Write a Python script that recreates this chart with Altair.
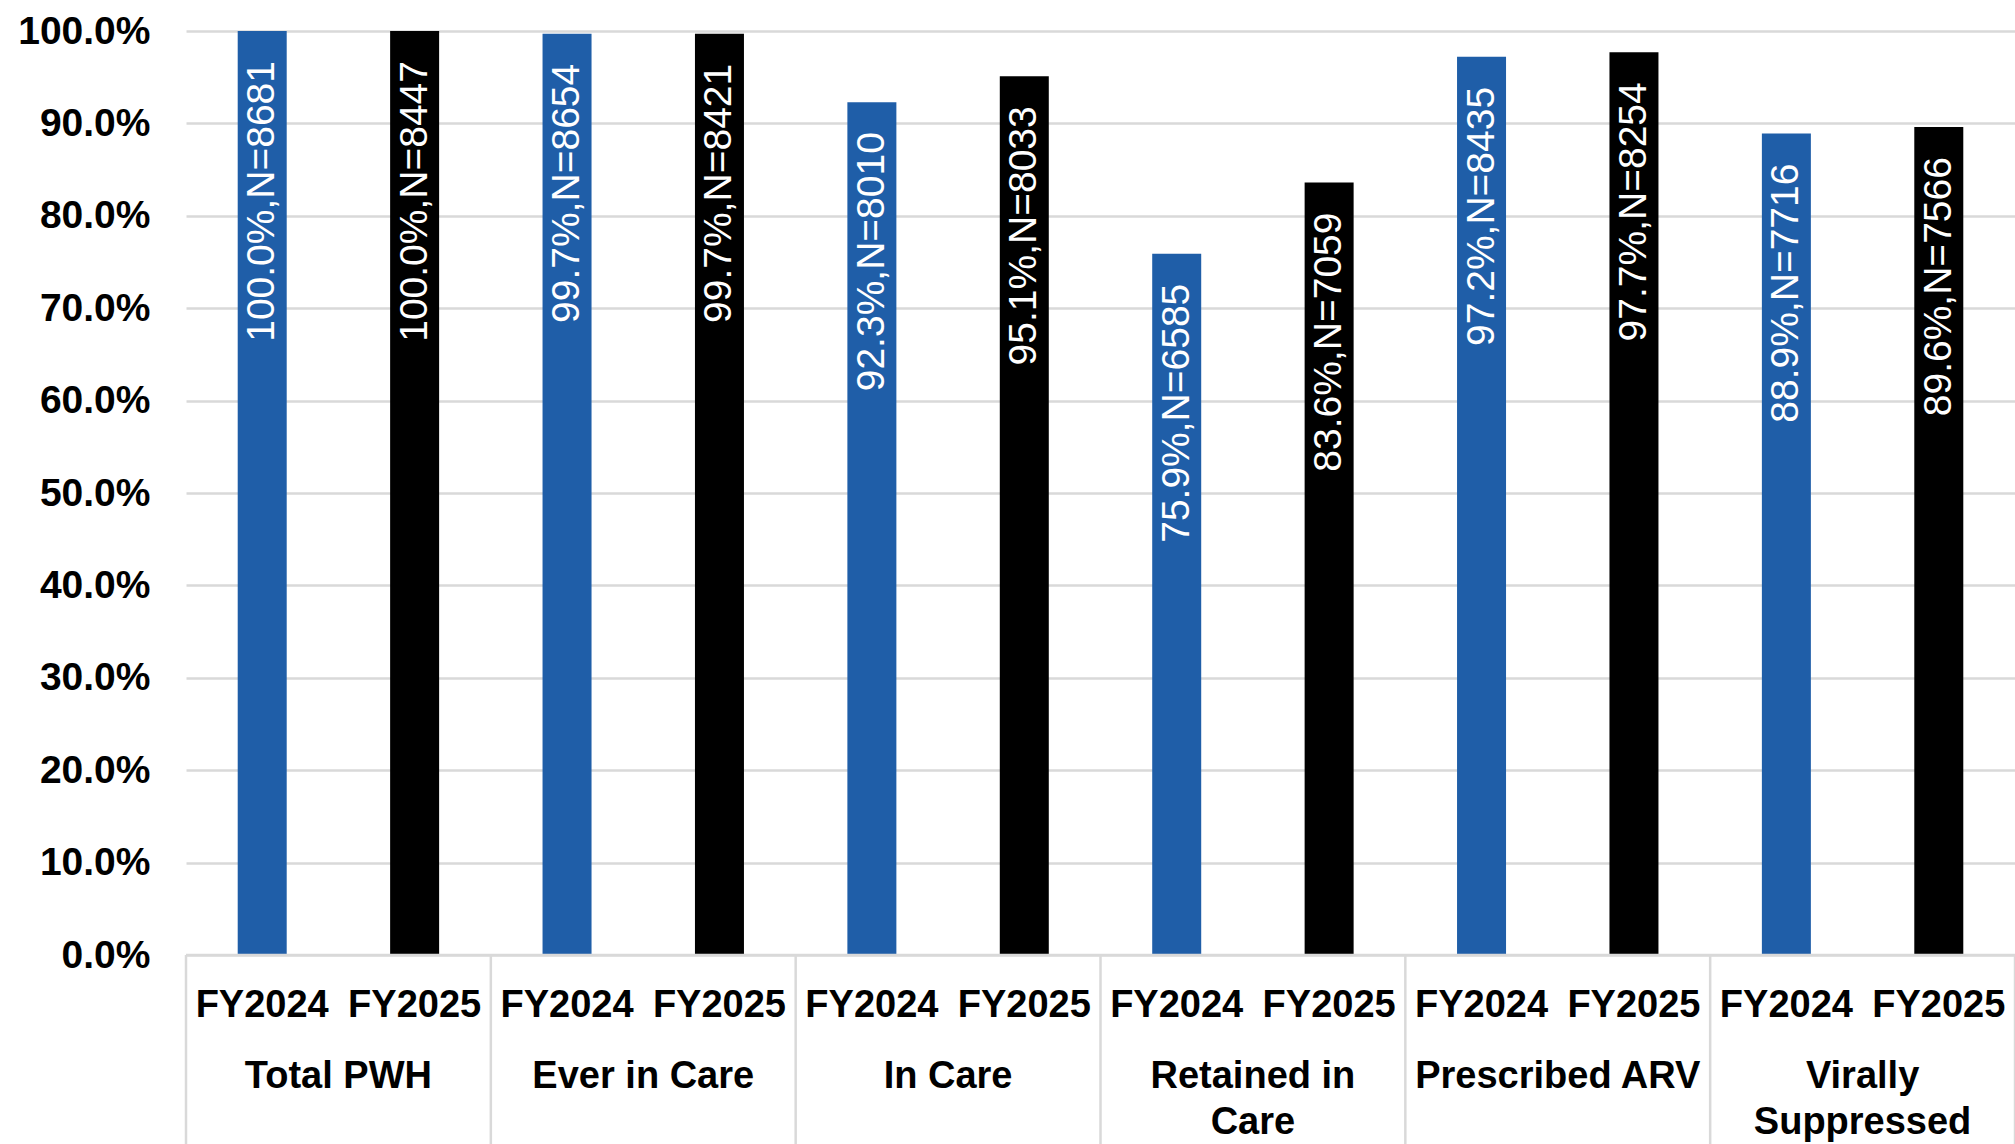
import altair as alt
import pandas as pd

categories = ["Total PWH", "Ever in Care", "In Care", "Retained in\nCare", "Prescribed ARV", "Virally\nSuppressed"]
years = ["FY2024", "FY2025"]
pct_2024 = [100.0, 99.7, 92.3, 75.9, 97.2, 88.9]
pct_2025 = [100.0, 99.7, 95.1, 83.6, 97.7, 89.6]
n_2024 = [8681, 8654, 8010, 6585, 8435, 7716]
n_2025 = [8447, 8421, 8033, 7059, 8254, 7566]
y_ticks = [0, 10, 20, 30, 40, 50, 60, 70, 80, 90, 100]

rows = []
for i, c in enumerate(categories):
    for y, p, n in ((years[0], pct_2024[i], n_2024[i]), (years[1], pct_2025[i], n_2025[i])):
        rows.append({"cat": c, "year": y, "pct": p, "n": n,
                     "label": f"{p:.1f}%,N={n}"})
df = pd.DataFrame(rows)
cat_df = pd.DataFrame({"cat": categories})

W, H = 1829, 924
FONT = "Liberation Sans"
GRID = "#d9d9d9"

xscale = alt.Scale(domain=categories, paddingInner=0, paddingOuter=0)
xoff = alt.Scale(domain=years, paddingInner=0, paddingOuter=0)
yscale = alt.Scale(domain=[0, 100], nice=False)

base = alt.Chart(df)

bars = base.mark_bar(width=49).encode(
    x=alt.X("cat:N", scale=xscale, axis=None, sort=categories),
    xOffset=alt.XOffset("year:N", scale=xoff, sort=years),
    y=alt.Y("pct:Q", scale=yscale,
            axis=alt.Axis(values=y_ticks, labelExpr="format(datum.value, '.1f') + '%'",
                          title=None, domain=False, ticks=False, grid=True,
                          gridColor=GRID, gridWidth=2.5, labelFont=FONT,
                          labelFontSize=39, labelFontWeight="bold", labelColor="#000000",
                          labelPadding=36)),
    color=alt.Color("year:N", scale=alt.Scale(domain=years, range=["#1f5ea8", "#000000"]), legend=None),
)

bar_labels = base.mark_text(angle=270, align="right", baseline="middle", dx=-30,
                            font=FONT, fontSize=39, color="white").encode(
    x=alt.X("cat:N", scale=xscale, sort=categories),
    xOffset=alt.XOffset("year:N", scale=xoff, sort=years),
    y=alt.Y("pct:Q", scale=yscale),
    text="label:N",
)

year_labels = base.mark_text(baseline="middle", font=FONT, fontSize=38, fontWeight="bold",
                             color="#000000").encode(
    x=alt.X("cat:N", scale=xscale, sort=categories),
    xOffset=alt.XOffset("year:N", scale=xoff, sort=years),
    y=alt.value(H + 51),
    text="year:N",
)

cat_labels = alt.Chart(cat_df).mark_text(baseline="top", font=FONT, fontSize=38, fontWeight="bold",
                                         color="#000000", lineBreak="\n", lineHeight=46).encode(
    x=alt.X("cat:N", scale=xscale, sort=categories),
    y=alt.value(H + 103),
    text="cat:N",
)

seps = alt.Chart(cat_df).mark_rule(color=GRID, strokeWidth=2.5).encode(
    x=alt.X("cat:N", scale=xscale, sort=categories, bandPosition=0),
    y=alt.value(H),
    y2=alt.value(H + 200),
)
sep_end = alt.Chart(cat_df.tail(1)).mark_rule(color=GRID, strokeWidth=2.5).encode(
    x=alt.X("cat:N", scale=xscale, sort=categories, bandPosition=1),
    y=alt.value(H),
    y2=alt.value(H + 200),
)
zero_line = alt.Chart(cat_df.head(1)).mark_rule(color=GRID, strokeWidth=2.5).encode(
    x=alt.value(0), x2=alt.value(W), y=alt.value(H),
)

chart = alt.layer(bars, bar_labels, year_labels, cat_labels, seps, sep_end, zero_line).properties(
    width=W, height=H,
    autosize=alt.AutoSizeParams(type="none"),
    padding={"left": 186, "top": 31, "right": 0, "bottom": 189},
    background="white",
).configure_view(stroke=None)

chart.save("out.html", embed_options={"renderer": "svg", "actions": False})
